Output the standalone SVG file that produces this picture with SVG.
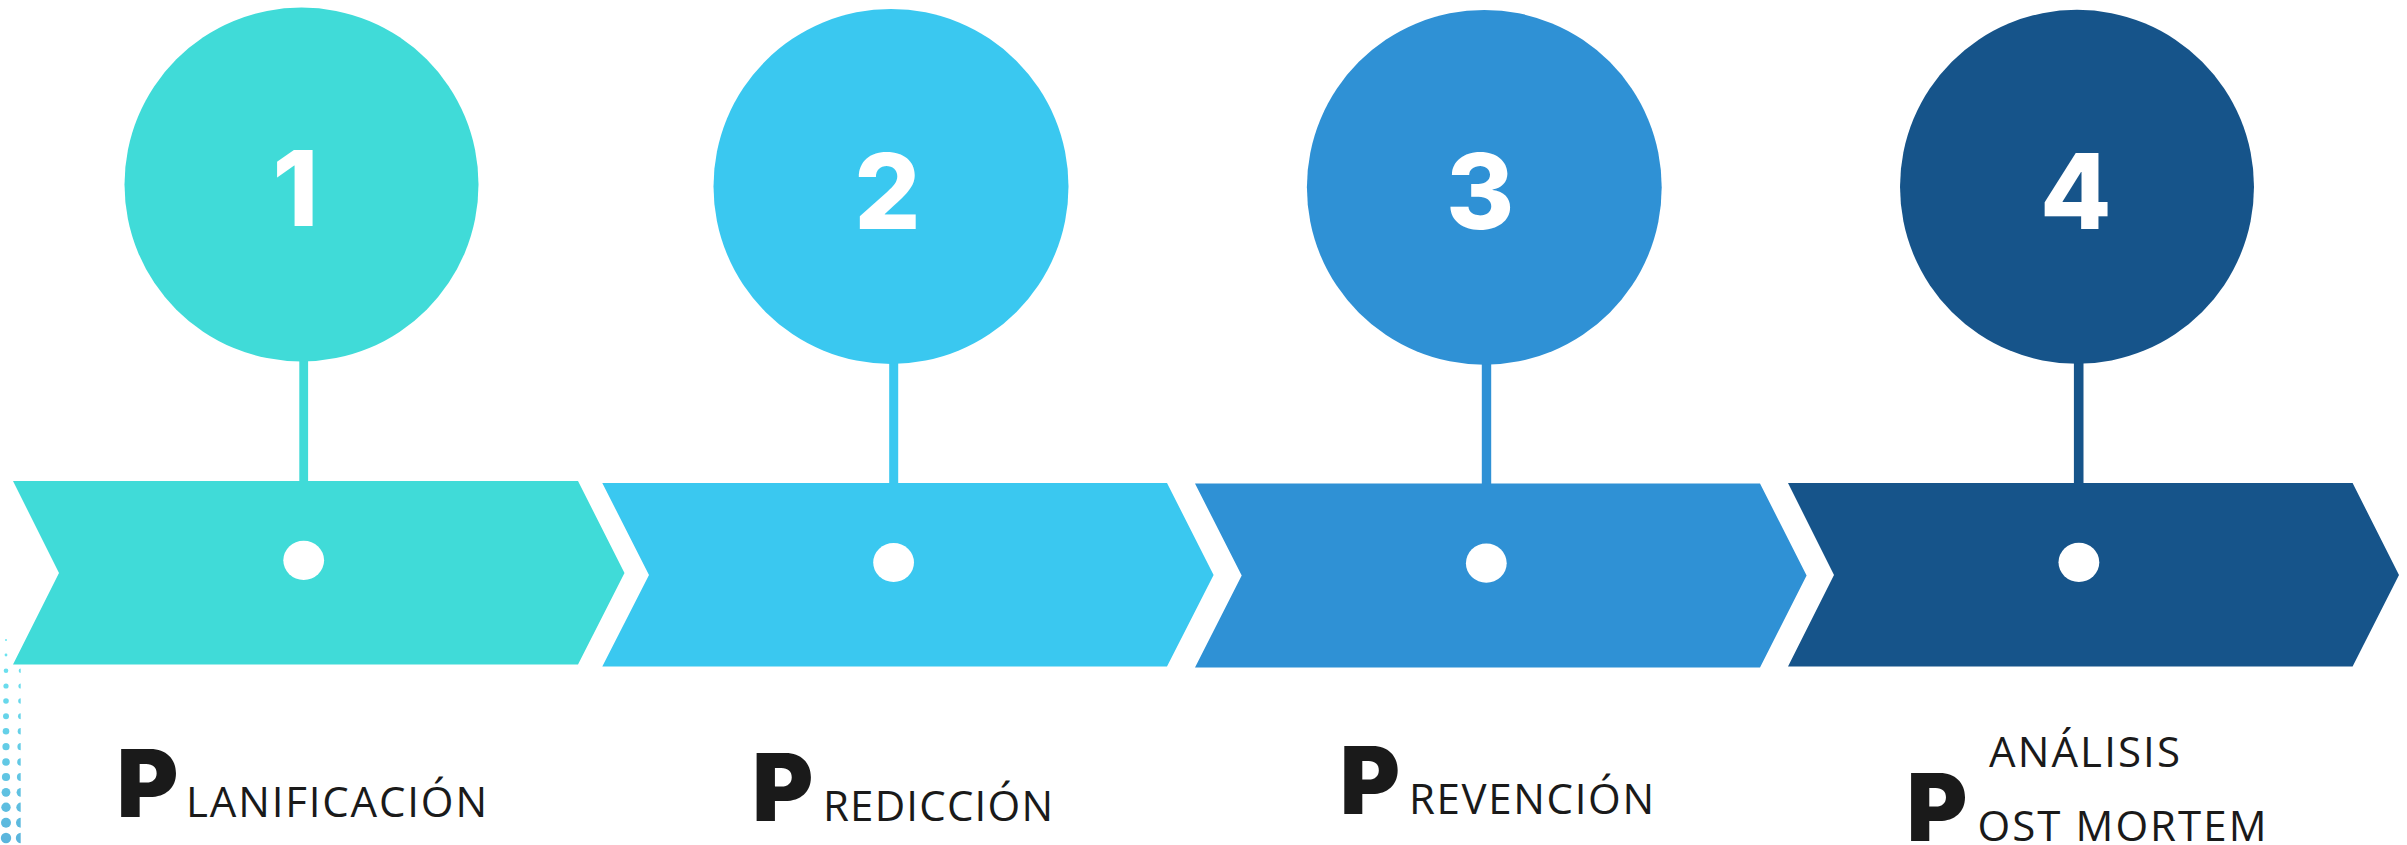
<svg xmlns="http://www.w3.org/2000/svg" width="2407" height="845" viewBox="0 0 2407 845">
<style>
.num{font-family:Inter,"Open Sans","Liberation Sans",sans-serif;font-weight:800;font-size:104px;fill:#ffffff;text-anchor:middle}
.big{font-family:Inter,"Liberation Sans",sans-serif;font-weight:900;font-size:94px;fill:#1a1a1a}
.sc{font-family:"Open Sans","Liberation Sans",sans-serif;font-weight:500;font-size:42px;fill:#1a1a1a}
.dot{fill:#ffffff}
.c1{fill:#40dbd8}.c2{fill:#3ac8f0}.c3{fill:#2f91d5}.c4{fill:#16548a}
</style>
<defs>
<clipPath id="clipCol2"><rect x="0" y="600" width="20.7" height="245"/></clipPath>
<linearGradient id="dotGrad" x1="0" y1="635" x2="0" y2="845" gradientUnits="userSpaceOnUse">
<stop offset="0" stop-color="#6ee8f2"/>
<stop offset="1" stop-color="#5ab4dc"/>
</linearGradient>
</defs>
<g id="dot-pattern" fill="url(#dotGrad)">
<circle cx="6" cy="640" r="1"/>
<circle cx="6" cy="655" r="1.4"/>
<circle cx="6" cy="670.7" r="2.3"/>
<circle cx="6" cy="686" r="2.6"/>
<circle cx="6" cy="701" r="2.8"/>
<circle cx="6" cy="716.3" r="3.0"/>
<circle cx="6" cy="731.3" r="3.3"/>
<circle cx="6" cy="746.7" r="3.6"/>
<circle cx="6" cy="762" r="3.8"/>
<circle cx="6" cy="777" r="4.1"/>
<circle cx="6" cy="792.3" r="4.4"/>
<circle cx="6" cy="807.3" r="4.7"/>
<circle cx="6" cy="822.7" r="5.0"/>
<circle cx="6" cy="838" r="5.2"/>
<g clip-path="url(#clipCol2)">
<circle cx="21" cy="670.7" r="2.3"/>
<circle cx="21" cy="686" r="2.6"/>
<circle cx="21" cy="701" r="2.8"/>
<circle cx="21" cy="716.3" r="3.0"/>
<circle cx="21" cy="731.3" r="3.3"/>
<circle cx="21" cy="746.7" r="3.6"/>
<circle cx="21" cy="762" r="3.8"/>
<circle cx="21" cy="777" r="4.1"/>
<circle cx="21" cy="792.3" r="4.4"/>
<circle cx="21" cy="807.3" r="4.7"/>
<circle cx="21" cy="822.7" r="5.0"/>
<circle cx="21" cy="838" r="5.2"/>
</g>
</g>
<g id="connectors">
<rect class="c1" x="299.3" y="350" width="8.8" height="140"/>
<rect class="c2" x="889.2" y="350" width="9" height="140"/>
<rect class="c3" x="1481.8" y="350" width="9.4" height="140"/>
<rect class="c4" x="2073.9" y="350" width="9.6" height="140"/>
</g>
<g id="step1">
<circle class="c1" cx="301.5" cy="184.5" r="177"/>
<text class="num" x="295.5" y="225.5">1</text>
<path class="c1" d="M13,481 L578,481 L624.5,573 L578,664.5 L13,664.5 L59,573 Z"/>
<ellipse class="dot" cx="303.7" cy="560.3" rx="20.4" ry="19.6"/>
<text class="big" x="116.7" y="817.3" textLength="61.6" lengthAdjust="spacingAndGlyphs">P</text>
<text class="sc" x="186" y="817" textLength="301" lengthAdjust="spacing">LANIFICACIÓN</text>
</g>
<g id="step2">
<circle class="c2" cx="891" cy="186.4" r="177.5"/>
<text class="num" x="887.4" y="228.5">2</text>
<path class="c2" d="M602.3,483 L1167,483 L1213.6,575 L1167,666.5 L602.3,666.5 L649,575 Z"/>
<ellipse class="dot" cx="893.6" cy="562.5" rx="20.4" ry="19.6"/>
<text class="big" x="752.3" y="820.7" textLength="61" lengthAdjust="spacingAndGlyphs">P</text>
<text class="sc" x="823" y="820.7" textLength="230" lengthAdjust="spacing">REDICCIÓN</text>
</g>
<g id="step3">
<circle class="c3" cx="1484.3" cy="187.3" r="177.4"/>
<text class="num" x="1480.2" y="228.5">3</text>
<path class="c3" d="M1195,483.5 L1760,483.5 L1806.6,575.5 L1760,667.4 L1195,667.4 L1241.7,575.5 Z"/>
<ellipse class="dot" cx="1486.3" cy="563.2" rx="20.4" ry="19.6"/>
<text class="big" x="1340" y="814.3" textLength="60" lengthAdjust="spacingAndGlyphs">P</text>
<text class="sc" x="1409" y="814.3" textLength="245" lengthAdjust="spacing">REVENCIÓN</text>
</g>
<g id="step4">
<circle class="c4" cx="2077" cy="186.8" r="177"/>
<text class="num" x="2075.7" y="228.5">4</text>
<path class="c4" d="M1788,483 L2352.6,483 L2399,575 L2352.6,666.5 L1788,666.5 L1834,575 Z"/>
<ellipse class="dot" cx="2078.9" cy="562.3" rx="20.4" ry="19.6"/>
<text class="sc" x="1989" y="767.3" textLength="191" lengthAdjust="spacing">ANÁLISIS</text>
<text class="big" x="1906.7" y="841" textLength="60.6" lengthAdjust="spacingAndGlyphs">P</text>
<text class="sc" x="1977.5" y="841" textLength="289" lengthAdjust="spacing">OST MORTEM</text>
</g>
</svg>
